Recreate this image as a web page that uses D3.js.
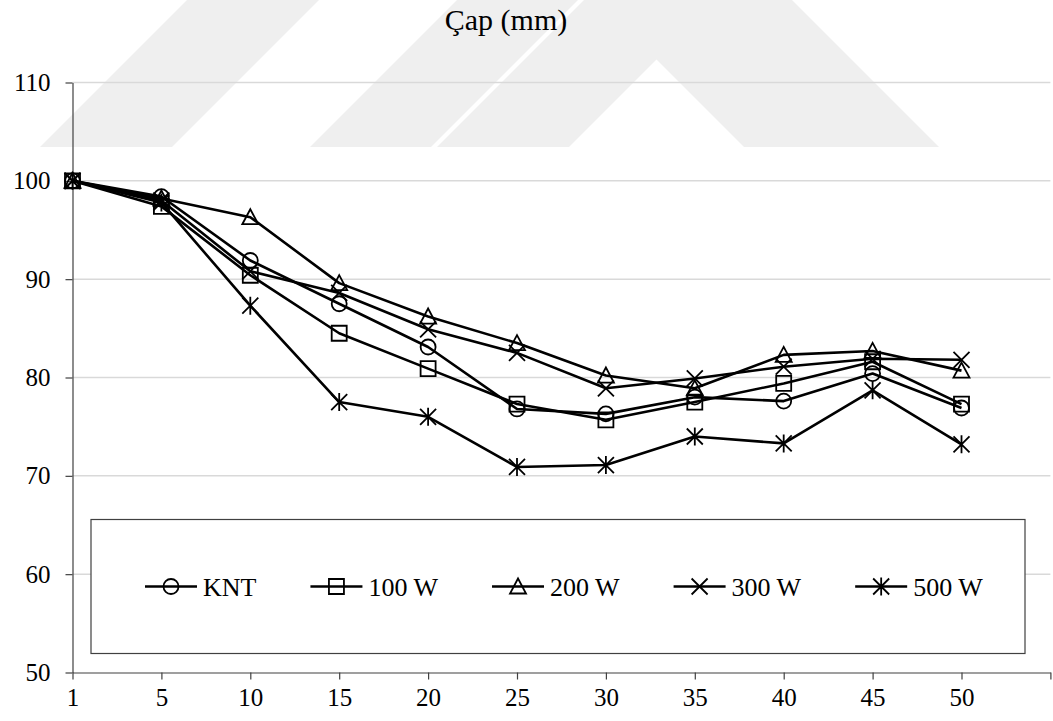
<!DOCTYPE html>
<html>
<head>
<meta charset="utf-8">
<script src="https://cdn.jsdelivr.net/npm/d3@7"></script>
<style>
  html, body { margin: 0; padding: 0; background: #fff; }
  svg { display: block; }
  text { font-family: "Liberation Serif", "Times New Roman", serif; fill: #000; }
</style>
</head>
<body>
<svg id="chart" width="1053" height="721"></svg>
<script>
// Sampling points (category labels along the bottom axis)
const categories = ["1", "5", "10", "15", "20", "25", "30", "35", "40", "45", "50"];

// Diameter (mm) per treatment
const seriesNames = ["KNT", "100 W", "200 W", "300 W", "500 W"];
const knt   = [100, 98.4, 91.9, 87.5, 83.1, 76.8, 76.3, 78.0, 77.6, 80.4, 76.9];
const w100  = [100, 97.4, 90.4, 84.5, 80.9, 77.3, 75.7, 77.5, 79.4, 81.6, 77.3];
const w200  = [100, 98.2, 96.3, 89.6, 86.2, 83.5, 80.2, 78.9, 82.3, 82.7, 80.7];
const w300  = [100, 98.0, 90.8, 88.6, 84.9, 82.5, 78.9, 79.9, 81.1, 81.9, 81.8];
const w500  = [100, 97.8, 87.3, 77.5, 76.0, 70.9, 71.1, 74.0, 73.3, 78.7, 73.2];

const yTicks = [50, 60, 70, 80, 90, 100, 110];
const title = "Çap (mm)";

const seriesValues = [knt, w100, w200, w300, w500];
const markerKinds = ["circle", "square", "triangle", "cross", "star"];

const svg = d3.select("#chart");
svg.append("rect").attr("width", 1053).attr("height", 721).attr("fill", "#fff");

// Faint background emblem: slanted bands and an open chevron
const mark = svg.append("g").attr("fill", "#efefef");
[
  [[40,147],[172,147],[319,0],[187,0]],
  [[310,147],[431,147],[578,0],[457,0]],
  [[437,147],[569,147],[656.5,59.5],[744,147],[939,147],[792,0],[584,0]]
].forEach(p => mark.append("path").attr("d", d3.line()(p) + "Z"));

// Scales: one extra empty slot at the right end of the category axis
const x = d3.scaleLinear().domain([0, 11]).range([72.5, 1050.4]);
const y = d3.scaleLinear().domain([50, 110]).range([672.5, 82.5]);

// Horizontal gridlines
svg.append("g")
  .selectAll("line")
  .data(yTicks.filter(v => v > 50))
  .join("line")
  .attr("x1", x(0)).attr("x2", x(11))
  .attr("y1", d => y(d)).attr("y2", d => y(d))
  .attr("stroke", "#d9d9d9").attr("stroke-width", 1.5);

// Axes
const yAxis = svg.append("g")
  .attr("transform", `translate(${x(0)},0)`)
  .call(d3.axisLeft(y).tickValues(yTicks).tickSize(7).tickSizeOuter(0).tickPadding(15));
const xAxis = svg.append("g")
  .attr("transform", `translate(0,${y(50)})`)
  .call(d3.axisBottom(x).tickValues(d3.range(12))
    .tickFormat(i => categories[i] ?? "").tickSize(7).tickSizeOuter(0).tickPadding(9));
[yAxis, xAxis].forEach(g => {
  g.select(".domain").attr("stroke", "#404040").attr("stroke-width", 1.2);
  g.selectAll(".tick line").attr("stroke", "#404040").attr("stroke-width", 1.2);
  g.selectAll("text").style("font-family", '"Liberation Serif", "Times New Roman", serif')
    .style("font-size", "25px").attr("fill", "#000");
});

// Title
svg.append("text")
  .attr("x", 506).attr("y", 30)
  .attr("text-anchor", "middle")
  .style("font-size", "30px")
  .text(title);

// Marker outlines centred on (0,0)
function markerPath(kind) {
  const p = d3.path();
  switch (kind) {
    case "circle": p.arc(0, 0, 7.5, 0, 2 * Math.PI); p.closePath(); break;
    case "square": p.rect(-7.5, -7.5, 15, 15); break;
    case "triangle": p.moveTo(0, -8); p.lineTo(8, 7); p.lineTo(-8, 7); p.closePath(); break;
    case "cross":
      p.moveTo(-8, -8); p.lineTo(8, 8); p.moveTo(8, -8); p.lineTo(-8, 8); break;
    case "star":
      p.moveTo(-8, -8); p.lineTo(8, 8); p.moveTo(8, -8); p.lineTo(-8, 8);
      p.moveTo(0, -9); p.lineTo(0, 9); break;
  }
  return p.toString();
}

const line = d3.line().x((d, i) => x(i)).y(d => y(d));

// Series: line then hollow markers
seriesValues.forEach((vals, si) => {
  const g = svg.append("g");
  g.append("path")
    .attr("d", line(vals))
    .attr("fill", "none").attr("stroke", "#000").attr("stroke-width", 2.6)
    .attr("stroke-linejoin", "round");
  g.selectAll("path.mk")
    .data(vals)
    .join("path")
    .attr("class", "mk")
    .attr("transform", (d, i) => `translate(${x(i)},${y(d)})`)
    .attr("d", markerPath(markerKinds[si]))
    .attr("fill", "none").attr("stroke", "#000").attr("stroke-width", 1.8);
});

// Legend
const legend = svg.append("g");
legend.append("rect")
  .attr("x", 91).attr("y", 519.5).attr("width", 934).attr("height", 134)
  .attr("fill", "#fff").attr("stroke", "#404040").attr("stroke-width", 1.2);
const legY = 586.5;
let cx = 145;
seriesNames.forEach((name, si) => {
  const g = legend.append("g");
  g.append("line").attr("x1", cx).attr("x2", cx + 52).attr("y1", legY).attr("y2", legY)
    .attr("stroke", "#000").attr("stroke-width", 2.6);
  g.append("path").attr("transform", `translate(${cx + 26},${legY})`)
    .attr("d", markerPath(markerKinds[si]))
    .attr("fill", "none").attr("stroke", "#000").attr("stroke-width", 1.8);
  const t = g.append("text").attr("x", cx + 58).attr("y", legY + 9)
    .style("font-size", "26px").text(name);
  cx = cx + 58 + t.node().getComputedTextLength() + 54;
});
</script>
</body>
</html>
